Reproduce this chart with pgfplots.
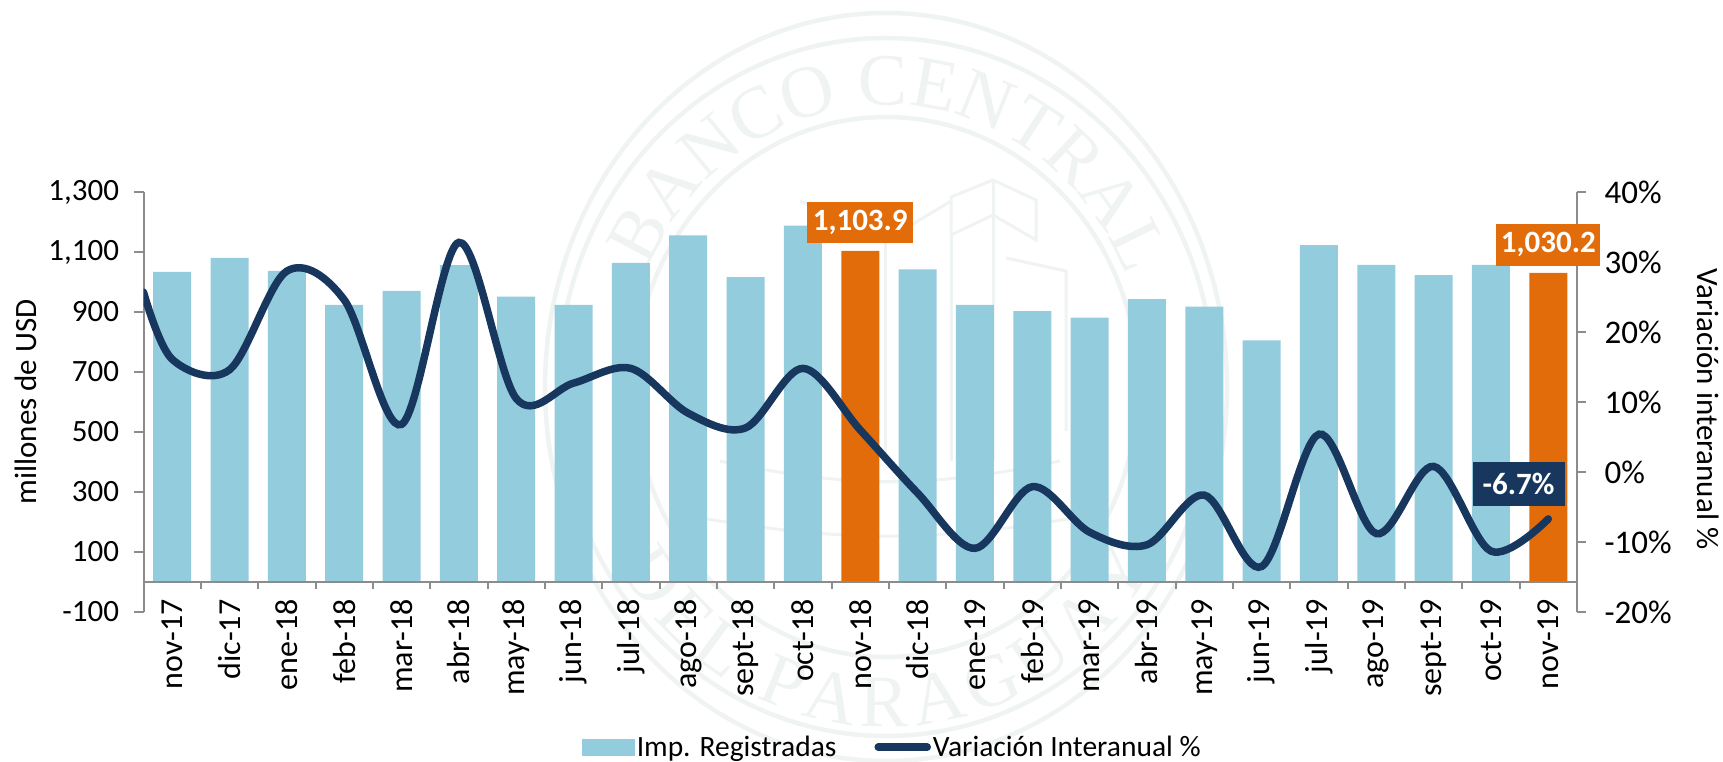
\documentclass[border=0pt]{standalone}
\usepackage{pgfplots}
\pgfplotsset{compat=1.18}
\usepackage{pgfplotstable}
\usepackage{fontspec}
\setmainfont{Carlito}
\usetikzlibrary{decorations.text}
\definecolor{barblue}{HTML}{93CDDD}
\definecolor{barorange}{HTML}{E36C0A}
\definecolor{linenavy}{HTML}{17375E}
\definecolor{axgray}{HTML}{8C8C8C}
\definecolor{wm}{HTML}{EFF3F2}
\pgfplotstableread{
x y
0 1034
1 1080
2 1037
3 924
4 970
5 1056
6 951
7 924
8 1064
9 1155
10 1016
11 1188
13 1042
14 924
15 903
16 881
17 943
18 918
19 805
20 1123
21 1057
22 1023
23 1057
}\barsblue
\pgfplotstableread{
x y
12 1103.9
24 1030.2
}\barsorange
\pgfplotstableread{
x y
-0.5 25.7
0 16.1
1 14.6
2 28.7
3 24.6
4 6.8
5 32.8
6 10.5
7 12.7
8 14.8
9 8.4
10 6.3
11 14.8
12 6.0
13 -3.0
14 -10.9
15 -2.1
16 -8.6
17 -10.4
18 -3.3
19 -13.5
20 5.4
21 -8.8
22 0.8
23 -11.3
24 -6.7
}\linedata
\newcommand{\lab}{\fontsize{31}{36}\selectfont}
\newcommand{\labx}{\fontsize{32}{36}\selectfont}
\newcommand{\labr}{\fontsize{33}{36}\selectfont}
\newcommand{\labl}{\fontsize{29.5}{36}\selectfont}
\pgfplotsset{
  base/.style={
    at={(143.5pt,149pt)}, anchor=south west, scale only axis,
    width=1433.5pt, height=420pt, xmin=-0.5, xmax=24.5,
    tick align=outside, major tick length=9pt,
    every tick/.style={draw=axgray, line width=2pt},
    axis line style={draw=axgray, line width=2pt},
    tick label style={font=\lab},
  },
}
\begin{document}
\begin{tikzpicture}[x=1pt,y=1pt]
\path[use as bounding box] (0,0) rectangle (1723,761);
% watermark (y measured from the bottom: 761 - image y)
\begin{scope}[draw=wm, line width=4.5pt]
  \draw (886,374) ellipse [x radius=341, y radius=374];
  \draw (886,374) ellipse [x radius=328, y radius=349];
  \draw (886,374) ellipse [x radius=252, y radius=270];
  \draw[line width=3pt] (800,560)--(885,520)--(951,560);
  \draw[line width=3pt] (951,526)--(951,564)--(993,581)--(1036,561)--(1036,521)--(993,546)--(951,526);
  \draw[line width=3pt] (993,581)--(993,300);
  \draw[line width=3pt] (951,526)--(951,300);
  \draw[line width=3pt] (1006,503)--(1066,490)--(1066,330);
  \draw[line width=3pt] (885,520)--(885,300);
  \draw[line width=3pt] (720,300) to[bend right=12] (1060,300);
  \draw[line width=3pt] (690,245) to[bend right=10] (1085,245);
\end{scope}
\path[decorate, decoration={text along path,
    text={|\color{wm}\fontspec{Liberation Serif}\fontsize{74}{74}\selectfont|BANCO CENTRAL},
    text align={fit to path}}]
  (886,374) ++(155:262 and 282) arc[start angle=155, end angle=25, x radius=262, y radius=282];
\path[decorate, decoration={text along path,
    text={|\color{wm}\fontspec{Liberation Serif}\fontsize{74}{74}\selectfont|DEL PARAGUAY},
    text align={fit to path}}]
  (886,374) ++(212:316 and 340) arc[start angle=212, end angle=328, x radius=316, y radius=340];

% left axis with bars
\begin{axis}[base,
  ymin=-100, ymax=1300,
  axis y line*=left, axis x line*=bottom,
  x axis line style={draw=none},
  ytick={-100,100,300,500,700,900,1100,1300},
  yticklabels={-100,100,300,500,700,900,{1,100},{1,300}},
  yticklabel style={xshift=-12pt},
  xtick={0,...,24},
  xtick style={draw=none},
  xticklabels={nov-17,dic-17,ene-18,feb-18,mar-18,abr-18,may-18,jun-18,jul-18,ago-18,sept-18,oct-18,nov-18,dic-18,ene-19,feb-19,mar-19,abr-19,may-19,jun-19,jul-19,ago-19,sept-19,oct-19,nov-19},
  xticklabel style={rotate=90, anchor=east, font=\labx},
  xticklabel shift=-25pt,
  ylabel={millones de USD},
  every axis y label/.style={at={(axis description cs:-0.082,0.5)}, rotate=90, anchor=center, font=\lab},
  clip=false,
]
\addplot[ybar, bar width=38pt, bar shift=0pt, fill=barblue, draw=none] table[x=x,y=y] {\barsblue};
\addplot[ybar, bar width=38pt, bar shift=0pt, fill=barorange, draw=none] table[x=x,y=y] {\barsorange};
\end{axis}

% x axis line at zero with ticks between the categories
\begin{axis}[base,
  ymin=-100, ymax=1300,
  axis x line=middle, axis y line=none,
  axis line style={-},
  xtick={-0.5,0.5,...,24.5}, xticklabels={},
  major tick length=7pt,
  tick align=outside,
]
\addplot[draw=none, forget plot] coordinates {(0,0)};
\end{axis}

% right axis with line
\begin{axis}[base,
  ymin=-20, ymax=40,
  axis y line*=right, axis x line=none,
  ytick={-20,-10,0,10,20,30,40},
  yticklabels={-20\%,-10\%,0\%,10\%,20\%,30\%,40\%},
  yticklabel style={xshift=15pt, font=\labr},
  ylabel={Variación interanual \%},
  every axis y label/.style={at={(axis description cs:1.0915,0.483)}, rotate=-90, anchor=center, font=\lab},
]
\addplot[linenavy, line width=7.5pt, line cap=round, smooth, tension=0.55] table[x=x,y=y] {\linedata};
\node[fill=linenavy, text=white, font=\lab\bfseries, minimum width=92pt, minimum height=44pt, inner sep=0pt, anchor=center]
  at (axis cs:23.48,-1.7) {-6.7\%};
\end{axis}

% data labels and legend
\begin{axis}[base,
  ymin=-100, ymax=1300,
  hide axis, clip=false,
  legend columns=2,
  legend style={draw=none, fill=none, at={(axis description cs:0.306,-0.322)}, anchor=west,
    font=\labl, inner sep=0pt, /tikz/every even column/.append style={column sep=36pt}},
]
\node[fill=barorange, text=white, font=\lab\bfseries, minimum width=106pt, minimum height=41pt, inner sep=0pt, anchor=south]
  at (axis cs:12,1130) {1,103.9};
\node[fill=barorange, text=white, font=\lab\bfseries, minimum width=104pt, minimum height=42pt, inner sep=0pt, anchor=south]
  at (axis cs:24,1054) {1,030.2};
\addlegendimage{legend image code/.code={\fill[barblue] (0pt,-8pt) rectangle (52pt,8pt);}}
\addlegendentry{Imp. Registradas}
\addlegendimage{legend image code/.code={\draw[linenavy, line width=7.5pt, line cap=round] (3pt,0pt)--(52pt,0pt);}}
\addlegendentry{Variación Interanual \%}
\addplot[draw=none, forget plot] coordinates {(0,0)};
\end{axis}
\end{tikzpicture}
\end{document}
